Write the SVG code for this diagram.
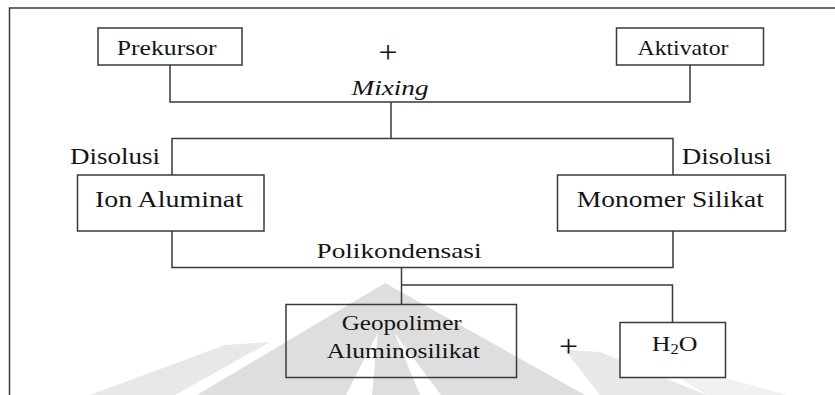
<svg xmlns="http://www.w3.org/2000/svg" width="835" height="395" viewBox="0 0 835 395">
<style>
.ln{fill:none;stroke:#3a3a3a;stroke-width:1.5}
.box{fill:#ffffff;stroke:#3a3a3a;stroke-width:1.5}
.t{font-family:"Liberation Serif",serif;fill:#141414;text-anchor:middle}
.wm{fill:#dedede}
.wm2{fill:#e8e8e8}
.wm3{fill:#f1f1f1}
</style>
<rect width="835" height="395" fill="#ffffff"/>
<g id="watermark">
<polygon class="wm3" points="707,395 787,395 690,368 660,366"/>
<polygon class="wm2" points="90,395 175,395 270,342 225,345"/>
<polygon class="wm2" points="600,395 707,395 600,352 565,350"/>
<polygon class="wm" points="385,283 197,395 585,395"/>
<polygon fill="#ffffff" points="378,332 346,395 372,395"/>
<polygon fill="#ffffff" points="394,332 420,395 441,395"/>
</g>
<g id="frame">
<polyline class="ln" points="9.5,395 9.5,8 835,8"/>
</g>
<g id="connectors">
<polyline class="ln" points="170,65 170,102 690,102 690,65"/>
<line class="ln" x1="391" y1="102" x2="391" y2="138.5"/>
<polyline class="ln" points="172,175 172,138.5 673,138.5 673,175"/>
<polyline class="ln" points="172,231 172,267.5 673,267.5 673,231"/>
<line class="ln" x1="401.5" y1="267.5" x2="401.5" y2="304.5"/>
<polyline class="ln" points="401.5,285 672.5,285 672.5,322.5"/>
</g>
<g id="prekursor">
<rect class="box" x="98" y="28" width="144" height="37"/>
<text class="t" x="166.7" y="55" font-size="22" textLength="100" lengthAdjust="spacingAndGlyphs">Prekursor</text>
</g>
<g id="aktivator">
<rect class="box" x="616.5" y="28" width="147" height="37"/>
<text class="t" x="683" y="55" font-size="22" textLength="91" lengthAdjust="spacingAndGlyphs">Aktivator</text>
</g>
<g id="plus1">
<text class="t" x="388" y="63" font-size="32" textLength="19" lengthAdjust="spacingAndGlyphs">+</text>
</g>
<g id="mixing">
<text class="t" x="390" y="95" font-size="20" font-style="italic" textLength="77" lengthAdjust="spacingAndGlyphs">Mixing</text>
</g>
<g id="disolusi-left">
<text class="t" x="115" y="164.3" font-size="23" textLength="90" lengthAdjust="spacingAndGlyphs">Disolusi</text>
</g>
<g id="disolusi-right">
<text class="t" x="726.7" y="164.3" font-size="23" textLength="90" lengthAdjust="spacingAndGlyphs">Disolusi</text>
</g>
<g id="ion-aluminat">
<rect class="box" x="77.5" y="175" width="186.5" height="56"/>
<text class="t" x="169" y="206.7" font-size="24" textLength="148" lengthAdjust="spacingAndGlyphs">Ion Aluminat</text>
</g>
<g id="monomer-silikat">
<rect class="box" x="557.5" y="175" width="228" height="56"/>
<text class="t" x="670.3" y="206.7" font-size="24" textLength="187" lengthAdjust="spacingAndGlyphs">Monomer Silikat</text>
</g>
<g id="polikondensasi">
<text class="t" x="399" y="258.3" font-size="22" textLength="165" lengthAdjust="spacingAndGlyphs">Polikondensasi</text>
</g>
<g id="geopolimer">
<rect class="box" x="286" y="304.5" width="230.5" height="73" style="fill:none"/>
<text class="t" x="401.7" y="330" font-size="20" textLength="120" lengthAdjust="spacingAndGlyphs">Geopolimer</text>
<text class="t" x="403.3" y="358.3" font-size="20" textLength="153" lengthAdjust="spacingAndGlyphs">Aluminosilikat</text>
</g>
<g id="plus2">
<text class="t" x="568.5" y="357" font-size="32" textLength="19" lengthAdjust="spacingAndGlyphs">+</text>
</g>
<g id="h2o">
<rect class="box" x="620" y="322.5" width="105.5" height="55"/>
<text class="t" font-size="22" transform="translate(674.7,350.7) scale(1.18,1)" x="0" y="0">H<tspan font-size="14" dy="3">2</tspan><tspan dy="-3">O</tspan></text>
</g>
</svg>
